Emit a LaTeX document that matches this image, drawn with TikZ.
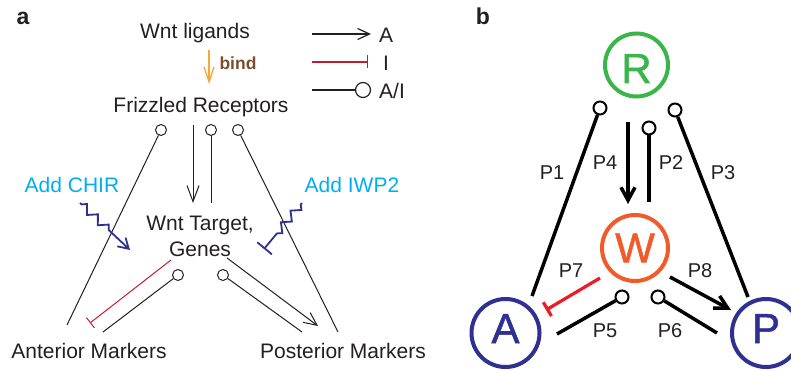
\documentclass[tikz,border=0pt]{standalone}
\usepackage{fontspec}
\setmainfont{Liberation Sans}
\newfontfamily\bigletters[FakeBold=1.2]{Liberation Sans}
\usetikzlibrary{arrows.meta,decorations.pathmorphing}
\definecolor{txt}{HTML}{231F20}
\definecolor{cyanA}{HTML}{00AEEF}
\definecolor{navy}{HTML}{2E3192}
\definecolor{redA}{HTML}{BE1E2D}
\definecolor{redB}{HTML}{ED1C24}
\definecolor{greenB}{HTML}{39B54A}
\definecolor{orangeB}{HTML}{F15A29}
\definecolor{bindor}{HTML}{F7A83A}
\definecolor{bindtx}{HTML}{7A4F2A}
\begin{document}
\begin{tikzpicture}[x=1pt,y=-1pt,
  lbl/.style={font=\fontsize{21}{26}\selectfont, text=txt, inner sep=0pt, anchor=base},
  plbl/.style={font=\fontsize{20}{24}\selectfont, text=txt, inner sep=0pt, anchor=base},
  panel/.style={font=\fontsize{23}{26}\selectfont\bfseries, text=txt, inner sep=0pt, anchor=base},
  thinln/.style={line width=1pt, draw=txt},
  ball/.style={circle, draw=txt, line width=1pt, fill=white, minimum size=11pt, inner sep=0pt},
  lball/.style={circle, draw=txt, line width=1.2pt, fill=white, minimum size=15pt, inner sep=0pt},
  bball/.style={circle, draw=black, line width=2pt, fill=white, minimum size=13pt, inner sep=0pt},
  thickln/.style={line width=3.5pt, draw=black},
  barbA/.style={-{Straight Barb[length=13pt,width=12pt]}},
  barbB/.style={-{Straight Barb[length=13pt,width=14pt]}},
  big/.style={circle, line width=4pt, inner sep=0pt, font=\bigletters\fontsize{42}{42}\selectfont},
  zig/.style={navy, line width=1.8pt, decorate, decoration={zigzag, segment length=15pt, amplitude=4pt, pre length=2pt}}
]
\useasboundingbox (0,0) rectangle (791,371);

% ---------------- panel a ----------------
\node[panel] (pa) at (23,25) {a};
\node[lbl] (wnt) at (195,39) {Wnt ligands};
\node[lbl] (fz) at (201,113) {Frizzled Receptors};
\node[lbl] (tg1) at (200,230) {Wnt Target,};
\node[lbl] (tg2) at (200,256) {Genes};
\node[lbl] (ant) at (89,358) {Anterior Markers};
\node[lbl] (post) at (343,358) {Posterior Markers};
\node[lbl, text=cyanA] (chir) at (72,193) {Add CHIR};
\node[lbl, text=cyanA] (iwp) at (352,193) {Add IWP2};

% legend
\coordinate (lA1) at (312,34); \coordinate (lA2) at (371,34);
\coordinate (lI1) at (312,62); \coordinate (lI2) at (368,62);
\coordinate (lC1) at (312,90);
\node[lball] (lC2) at (363,90) {};
\draw[line width=1.2pt, draw=txt, -{Straight Barb[length=12pt,width=11pt]}] (lA1) -- (lA2);
\draw[line width=1.2pt, draw=redA, -{Bar[width=13pt]}] (lI1) -- (lI2);
\draw[line width=1.2pt, draw=txt] (lC1) -- (lC2);
\node[lbl] (tA) at (386,43) {A};
\node[lbl] (tI) at (386,71) {I};
\node[lbl] (tAI) at (392,99) {A/I};

% bind
\coordinate (b1) at (209,50); \coordinate (b2) at (209,84);
\draw[bindor, line width=1.3pt, -{Straight Barb[length=15pt,width=10pt]}] (b1) -- (b2);
\node[font=\fontsize{17.5}{20}\selectfont\bfseries, text=bindtx, inner sep=0pt, anchor=base] (bind) at (238,70) {bind};

% circles under Frizzled
\node[ball] (c1) at (161,130) {};
\node[ball] (c2) at (211,130) {};
\node[ball] (c3) at (238,130) {};
\coordinate (e1) at (67,325);
\coordinate (e3) at (338,332);
\coordinate (d1) at (193,125); \coordinate (d2) at (193,203);
\coordinate (e2) at (211,203);
\draw[thinln] (c1) -- (e1);
\draw[thinln] (c3) -- (e3);
\draw[thinln] (c2) -- (e2);
\draw[thinln, -{Straight Barb[length=16pt,width=12pt]}] (d1) -- (d2);

% drugs
\coordinate (z1) at (80,203); \coordinate (z2) at (130,250);
\draw[zig, decoration={post length=22pt}, -{Straight Barb[length=10pt,width=12pt]}] (z1) -- (z2);
\coordinate (w1) at (302,203); \coordinate (w2) at (264,249);
\draw[zig, decoration={post length=14pt}, -{Bar[width=19pt]}] (w1) -- (w2);

% target gene outputs
\coordinate (r1) at (171,260); \coordinate (r2) at (90,323);
\draw[line width=1pt, redA, -{Bar[width=13pt]}] (r1) -- (r2);
\node[ball] (c4) at (178,275) {};
\coordinate (e4) at (103,332);
\draw[thinln] (c4) -- (e4);
\node[ball] (c5) at (223,275) {};
\coordinate (e5) at (302,332);
\draw[thinln] (c5) -- (e5);
\coordinate (p1) at (227,258); \coordinate (p2) at (318,326);
\draw[thinln, barbA] (p1) -- (p2);

% ---------------- panel b ----------------
\node[panel] (pb) at (483,25) {b};
\node[big, draw=greenB, text=greenB, minimum size=63pt, text height=36pt, text depth=0pt] (R) at (636.5,65) {R};
\node[big, draw=orangeB, text=orangeB, minimum size=66pt] (W) at (635,248) {W};
\node[big, draw=navy, text=navy, minimum size=68pt, text height=30pt, text depth=10pt] (A) at (505.5,333) {A};
\node[big, draw=navy, text=navy, minimum size=68pt, text height=30pt, text depth=10pt] (P) at (766,333) {P};

\node[bball] (bc1) at (600,108) {};
\node[bball] (bc3) at (675,110) {};
\node[bball] (bc2) at (649,128) {};
\coordinate (f1) at (532,296);
\coordinate (f3) at (748,297);
\coordinate (f2) at (649,202);
\coordinate (g1) at (628,122); \coordinate (g2) at (628,204);
\draw[thickln] (bc1) -- (f1);
\draw[thickln] (bc3) -- (f3);
\draw[thickln] (bc2) -- (f2);
\draw[thickln, barbB] (g1) -- (g2);

\coordinate (h1) at (600,278); \coordinate (h2) at (546,310);
\draw[line width=3.2pt, redB, -{Bar[width=16pt]}] (h1) -- (h2);
\node[bball] (bc5) at (622,297) {};
\coordinate (f5) at (557,334);
\draw[thickln] (bc5) -- (f5);
\node[bball] (bc6) at (658,297) {};
\coordinate (f6) at (717,333);
\draw[thickln] (bc6) -- (f6);
\coordinate (k1) at (670,277); \coordinate (k2) at (731,310);
\draw[thickln, barbB] (k1) -- (k2);

\node[plbl] (P1) at (552,180) {P1};
\node[plbl] (P4) at (605,170) {P4};
\node[plbl] (P2) at (671,170) {P2};
\node[plbl] (P3) at (723,180) {P3};
\node[plbl] (P7) at (571,277) {P7};
\node[plbl] (P8) at (700,277) {P8};
\node[plbl] (P5) at (605,337) {P5};
\node[plbl] (P6) at (670,337) {P6};
\end{tikzpicture}
\end{document}
